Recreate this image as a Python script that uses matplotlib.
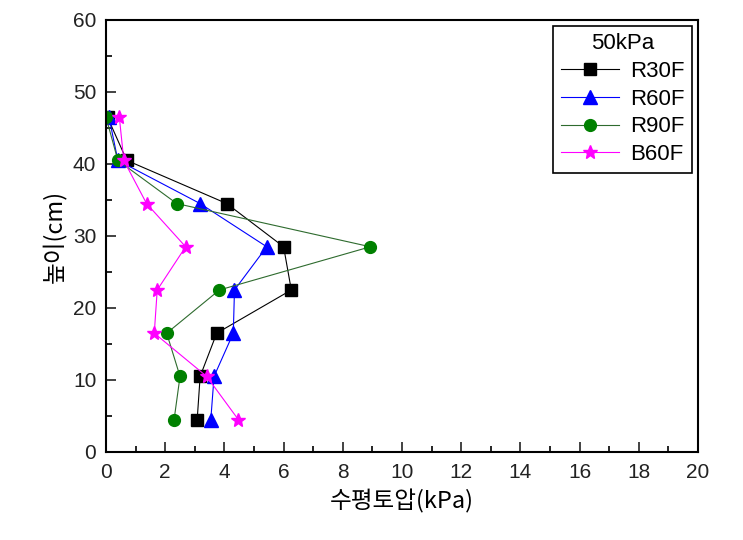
import matplotlib
matplotlib.use('Agg')
import matplotlib.pyplot as plt
import matplotlib.ticker as ticker

plt.rcParams['font.family'] = ['Liberation Sans', 'Noto Sans CJK KR', 'DejaVu Sans']

heights = [46.5, 40.5, 34.5, 28.5, 22.5, 16.5, 10.5, 4.5]
r30f = [0.05, 0.7, 4.08, 6.0, 6.26, 3.74, 3.18, 3.08]
r60f = [0.1, 0.4, 3.18, 5.43, 4.34, 4.3, 3.65, 3.54]
r90f = [0.0, 0.4, 2.39, 8.93, 3.83, 2.05, 2.5, 2.3]
b60f = [0.45, 0.6, 1.37, 2.69, 1.73, 1.63, 3.4, 4.47]

series = [
    ('R30F', r30f, 'black', 'black', 's', 8.5),
    ('R60F', r60f, 'blue', 'blue', '^', 9.5),
    ('R90F', r90f, '#2e6b2e', 'green', 'o', 8.5),
    ('B60F', b60f, 'magenta', 'magenta', '*', 10),
]


def main():
    fig = plt.figure(figsize=(7.43, 5.4), dpi=100)
    ax = fig.add_axes([0.1427, 0.163, 0.7967, 0.8])
    for name, xs, lc, mc, mk, ms in series:
        ax.plot(xs, heights, color=lc, lw=0.8, marker=mk, ms=ms,
                markerfacecolor=mc, markeredgecolor=mc, label=name)

    ax.set_xlim(0, 20)
    ax.set_ylim(0, 60)
    ax.xaxis.set_major_locator(ticker.MultipleLocator(2))
    ax.xaxis.set_minor_locator(ticker.MultipleLocator(1))
    ax.yaxis.set_major_locator(ticker.MultipleLocator(10))
    ax.yaxis.set_minor_locator(ticker.MultipleLocator(5))
    ax.tick_params(which='both', direction='in', top=False, right=False, width=1.2)
    ax.tick_params(which='major', length=7, labelsize=15, colors='#222222')
    ax.tick_params(axis='x', which='major', pad=8)
    ax.tick_params(axis='y', which='major', pad=7)
    ax.tick_params(which='minor', length=4)
    for s in ax.spines.values():
        s.set_linewidth(1.5)

    ax.set_xlabel('수평토압(kPa)', fontsize=17, labelpad=5,
                  family=['Noto Sans CJK KR', 'DejaVu Sans'])
    ax.set_ylabel('높이(cm)', fontsize=17, labelpad=5,
                  family=['Noto Sans CJK KR', 'DejaVu Sans'])

    leg = ax.legend(title='50kPa', loc='upper right', fontsize=16, title_fontsize=16,
                    fancybox=False, edgecolor='black', framealpha=1,
                    borderaxespad=0.25, borderpad=0.35, handlelength=2.6,
                    handletextpad=0.5, labelspacing=0.3)
    leg.get_frame().set_linewidth(1.2)

    plt.savefig('out.png', dpi=100)


if __name__ == '__main__':
    main()
